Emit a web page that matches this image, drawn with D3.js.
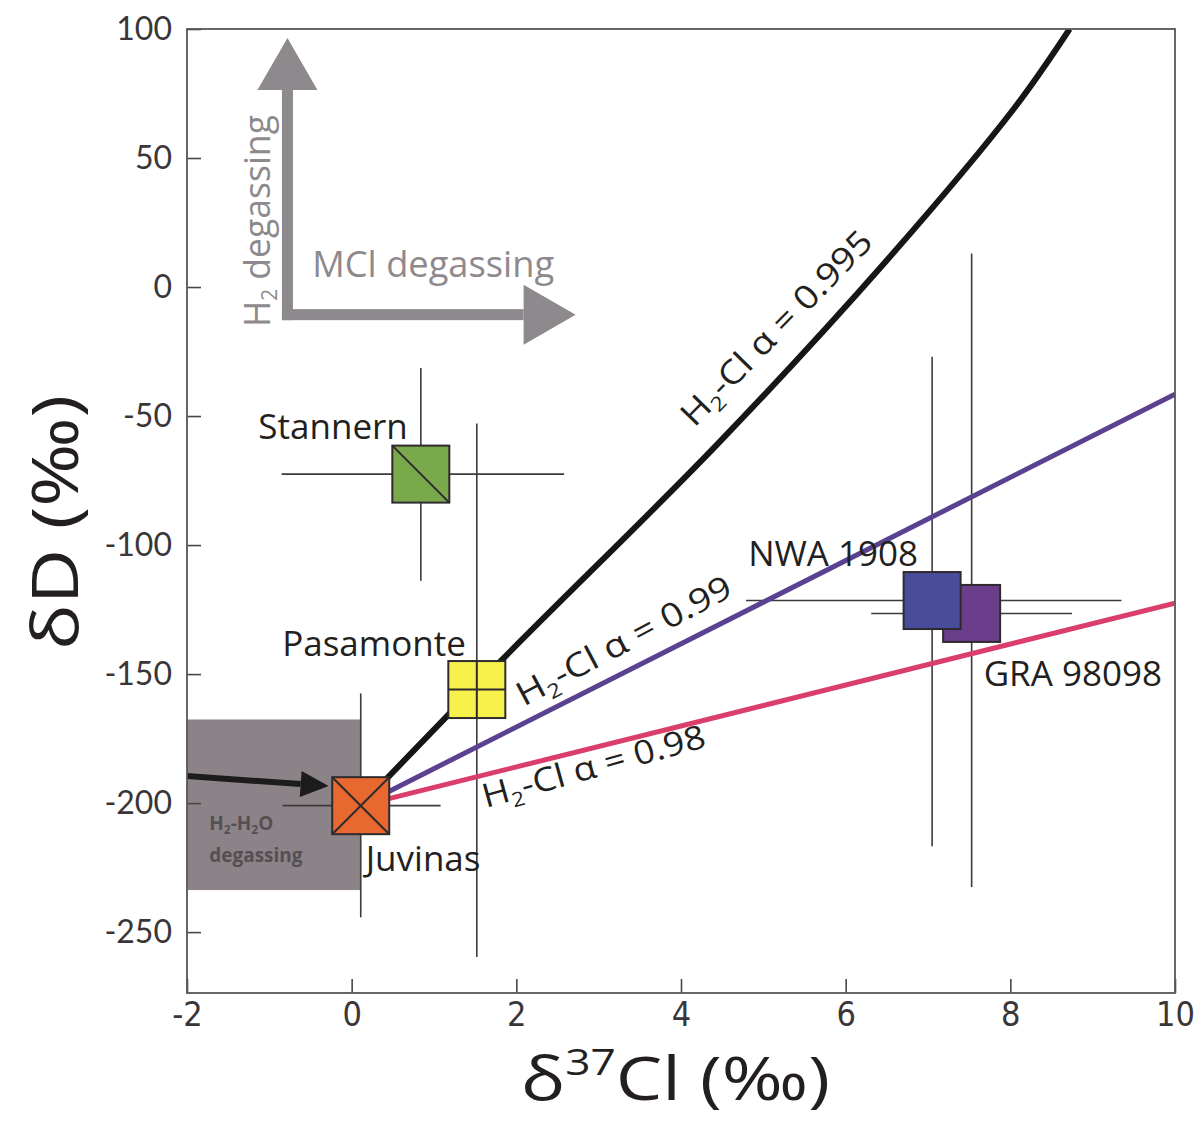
<!DOCTYPE html>
<html>
<head>
<meta charset="utf-8">
<script src="https://cdn.jsdelivr.net/npm/d3@7"></script>
<style>
  body { margin: 0; background: #fff; }
  svg text { font-family: "Open Sans", "Noto Sans", sans-serif; }
</style>
</head>
<body>
<div id="chart"></div>
<script>
// ---- data ----
const sampleNames = ['Stannern', 'Pasamonte', 'Juvinas', 'GRA 98098', 'NWA 1908'];
const sampleX   = [0.84, 1.52, 0.11, 7.53, 7.05];
const sampleY   = [-72.5, -156, -201, -126.5, -121.5];
const sampleXLo = [-0.85, 1.18, -0.84, 6.31, 4.79];
const sampleXHi = [2.58, 1.86, 1.08, 8.75, 9.35];
const sampleYLo = [-113.8, -259.6, -244.3, -232.5, -216.7];
const sampleYHi = [-31.4, -52.9, -157.5, 13, -27];
const sampleColors = ['#7aa94b', '#f6f14b', '#e8692f', '#6a3e8b', '#484c9b'];
const sampleMarks = ['diag', 'plus', 'cross', 'none', 'none'];

// degassing model curves (H2-Cl fractionation)
const curve995X = [0.11, 1.84, 4.44, 6.49, 8.04, 8.72];
const curve995Y = [-201, -144, -61, 10, 69, 100];
const line99X = [0.11, 10];
const line99Y = [-201, -41.5];
const line98X = [0.11, 10];
const line98Y = [-201, -122.5];

// H2-H2O degassing field
const fieldX = [-2, 0.11];
const fieldY = [-233.7, -167.6];

const xTicks = [-2, 0, 2, 4, 6, 8, 10];
const yTicks = [100, 50, 0, -50, -100, -150, -200, -250];

// ---- layout ----
const W = 1201, H = 1123;
const margin = { top: 29, left: 187, right: 26, bottom: 130 };
const width = W - margin.left - margin.right;
const height = H - margin.top - margin.bottom;

const svg = d3.select('#chart').append('svg')
  .attr('width', W)
  .attr('height', H);

const g = svg.append('g')
  .attr('transform', `translate(${margin.left},${margin.top})`);

const x = d3.scaleLinear().domain([-2, 10]).range([0, width]);
const y = d3.scaleLinear().domain([-273.6, 100]).range([height, 0]);

svg.append('defs').append('clipPath').attr('id', 'plot-clip')
  .append('rect').attr('width', width).attr('height', height);

const plot = g.append('g').attr('clip-path', 'url(#plot-clip)');

// H2-H2O field
plot.append('rect')
  .attr('x', x(fieldX[0]))
  .attr('y', y(fieldY[1]))
  .attr('width', x(fieldX[1]) - x(fieldX[0]))
  .attr('height', y(fieldY[0]) - y(fieldY[1]))
  .attr('fill', '#8b8387');

const fieldText = plot.append('text')
  .attr('fill', '#554f53')
  .style('font-weight', 700)
  .style('font-size', '19px');
fieldText.append('tspan').attr('x', x(-1.73)).attr('y', y(-210.5)).text('H');
fieldText.append('tspan').style('font-size', '12px').attr('dy', 4).text('2');
fieldText.append('tspan').attr('dy', -4).text('-H');
fieldText.append('tspan').style('font-size', '12px').attr('dy', 4).text('2');
fieldText.append('tspan').attr('dy', -4).text('O');
plot.append('text')
  .attr('x', x(-1.73)).attr('y', y(-222.9))
  .attr('fill', '#554f53')
  .style('font-weight', 700)
  .style('font-size', '19px')
  .text('degassing');

// black arrow into Juvinas
const arrowStart = [-2, -189.5];
const arrowEnd = [-0.28, -193.4];
{
  const x0 = x(arrowStart[0]), y0 = y(arrowStart[1]);
  const x1 = x(arrowEnd[0]), y1 = y(arrowEnd[1]);
  const ang = Math.atan2(y1 - y0, x1 - x0);
  const headLen = 28, headW = 13;
  const bx = x1 - headLen * Math.cos(ang), by = y1 - headLen * Math.sin(ang);
  plot.append('line')
    .attr('x1', x0).attr('y1', y0).attr('x2', bx).attr('y2', by)
    .attr('stroke', '#1c1c1c').attr('stroke-width', 6);
  plot.append('path')
    .attr('d', `M${x1},${y1}L${bx - headW * Math.sin(ang)},${by + headW * Math.cos(ang)}L${bx + headW * Math.sin(ang)},${by - headW * Math.cos(ang)}Z`)
    .attr('fill', '#1c1c1c');
}

// gray degassing direction arrows
const degasCorner = [-0.78, -10.7];
const h2ArrowTip = 96.5;
const mclArrowTip = 2.72;
{
  const cx = x(degasCorner[0]), cy = y(degasCorner[1]);
  const shaft = 11, headLen = 52, headHalf = 30;
  const ty = y(h2ArrowTip), tx = x(mclArrowTip);
  const gray = '#8e898c';
  plot.append('rect')
    .attr('x', cx - shaft / 2).attr('y', ty + headLen)
    .attr('width', shaft).attr('height', cy + shaft / 2 - (ty + headLen))
    .attr('fill', gray);
  plot.append('path')
    .attr('d', `M${cx},${ty}L${cx - headHalf},${ty + headLen}L${cx + headHalf},${ty + headLen}Z`)
    .attr('fill', gray);
  plot.append('rect')
    .attr('x', cx - shaft / 2).attr('y', cy - shaft / 2)
    .attr('width', tx - headLen - (cx - shaft / 2)).attr('height', shaft)
    .attr('fill', gray);
  plot.append('path')
    .attr('d', `M${tx},${cy}L${tx - headLen},${cy - headHalf}L${tx - headLen},${cy + headHalf}Z`)
    .attr('fill', gray);

  plot.append('text')
    .attr('x', x(-0.48)).attr('y', y(4.0))
    .attr('fill', gray)
    .style('font-size', '36px')
    .attr('textLength', 242)
    .attr('lengthAdjust', 'spacingAndGlyphs')
    .text('MCl degassing');

  const h2t = plot.append('text')
    .attr('transform', `translate(${cx - 17},${y(-15.5)}) rotate(-90)`)
    .attr('fill', gray)
    .style('font-size', '36px')
    .attr('textLength', 212)
    .attr('lengthAdjust', 'spacingAndGlyphs');
  h2t.append('tspan').text('H');
  h2t.append('tspan').style('font-size', '21px').attr('dy', 7).text('2');
  h2t.append('tspan').attr('dy', -7).text(' degassing');
}

// error bars
const idx = d3.range(sampleNames.length);
plot.append('g').selectAll('line.xerr')
  .data(idx).enter().append('line')
  .attr('class', 'xerr')
  .attr('x1', i => x(sampleXLo[i])).attr('x2', i => x(sampleXHi[i]))
  .attr('y1', i => y(sampleY[i])).attr('y2', i => y(sampleY[i]))
  .attr('stroke', '#3d3a3c').attr('stroke-width', 1.6);
plot.append('g').selectAll('line.yerr')
  .data(idx).enter().append('line')
  .attr('class', 'yerr')
  .attr('x1', i => x(sampleX[i])).attr('x2', i => x(sampleX[i]))
  .attr('y1', i => y(sampleYLo[i])).attr('y2', i => y(sampleYHi[i]))
  .attr('stroke', '#3d3a3c').attr('stroke-width', 1.6);

// model lines
const lineGen = d3.line()
  .x(d => x(d[0])).y(d => y(d[1]))
  .curve(d3.curveCatmullRom);
plot.append('path')
  .datum(d3.zip(line98X, line98Y))
  .attr('d', lineGen)
  .attr('fill', 'none').attr('stroke', '#da3f6c').attr('stroke-width', 5);
plot.append('path')
  .datum(d3.zip(line99X, line99Y))
  .attr('d', lineGen)
  .attr('fill', 'none').attr('stroke', '#5a4290').attr('stroke-width', 5);
plot.append('path')
  .datum(d3.zip(curve995X, curve995Y))
  .attr('d', lineGen)
  .attr('fill', 'none').attr('stroke', '#161616').attr('stroke-width', 6);

// sample boxes
const box = 57;
const cells = plot.append('g').selectAll('g.sample')
  .data(idx).enter().append('g')
  .attr('class', 'sample')
  .attr('transform', i => `translate(${x(sampleX[i])},${y(sampleY[i])})`);
cells.append('rect')
  .attr('x', -box / 2).attr('y', -box / 2)
  .attr('width', box).attr('height', box)
  .attr('fill', i => sampleColors[i])
  .attr('stroke', '#2f2a2e').attr('stroke-width', 2);
cells.each(function (i) {
  const s = d3.select(this), h = box / 2;
  const segs = [];
  if (sampleMarks[i] === 'diag' || sampleMarks[i] === 'cross') segs.push([-h, -h, h, h]);
  if (sampleMarks[i] === 'cross') segs.push([-h, h, h, -h]);
  if (sampleMarks[i] === 'plus') segs.push([-h, 0, h, 0], [0, -h, 0, h]);
  segs.forEach(p => s.append('line')
    .attr('x1', p[0]).attr('y1', p[1]).attr('x2', p[2]).attr('y2', p[3])
    .attr('stroke', '#2f2a2e').attr('stroke-width', 2));
});

// sample labels (offsets in px from the box centre)
const labelOffsets = {
  'Stannern': [-13, -35, 'end'],
  'Pasamonte': [-11, -34, 'end'],
  'Juvinas': [5, 65, 'start'],
  'GRA 98098': [12, 73, 'start'],
  'NWA 1908': [-14, -35, 'end']
};
plot.append('g').selectAll('text.label')
  .data(idx).enter().append('text')
  .attr('class', 'label')
  .attr('x', i => x(sampleX[i]) + labelOffsets[sampleNames[i]][0])
  .attr('y', i => y(sampleY[i]) + labelOffsets[sampleNames[i]][1])
  .attr('text-anchor', i => labelOffsets[sampleNames[i]][2])
  .attr('fill', '#231f20')
  .style('font-size', '35px')
  .text(i => sampleNames[i]);

// model labels
const modelLabels = [
  { text: '0.995', pos: [4.16, -54.7], angle: -45.6, len: 258 },
  { text: '0.99', pos: [2.09, -162.7], angle: -28, len: 239 },
  { text: '0.98', pos: [1.63, -201.9], angle: -15.5, len: 230 }
];
modelLabels.forEach(m => {
  const t = plot.append('text')
    .attr('transform', `translate(${x(m.pos[0])},${y(m.pos[1])}) rotate(${m.angle})`)
    .attr('fill', '#231f20')
    .style('font-size', '33px')
    .attr('textLength', m.len)
    .attr('lengthAdjust', 'spacingAndGlyphs');
  t.append('tspan').text('H');
  t.append('tspan').style('font-size', '20px').attr('dy', 7).text('2');
  t.append('tspan').attr('dy', -7).text(`-Cl α = ${m.text}`);
});

// axes
const yAxis = g.append('g')
  .call(d3.axisLeft(y).tickValues(yTicks).tickFormat(d => String(d))
    .tickSizeInner(-14).tickSizeOuter(0).tickPadding(15));
yAxis.select('.domain').remove();
yAxis.selectAll('.tick line').attr('stroke', '#4a4648').attr('stroke-width', 1.6);
yAxis.selectAll('.tick text')
  .attr('fill', '#3a3638')
  .style('font-family', 'Lato, "Open Sans", sans-serif')
  .style('font-size', '32px');

const xAxis = g.append('g')
  .attr('transform', `translate(0,${height})`)
  .call(d3.axisBottom(x).tickValues(xTicks).tickFormat(d => String(d))
    .tickSizeInner(-14).tickSizeOuter(0).tickPadding(9));
xAxis.select('.domain').remove();
xAxis.selectAll('.tick line').attr('stroke', '#4a4648').attr('stroke-width', 1.6);
xAxis.selectAll('.tick text')
  .attr('fill', '#3a3638')
  .style('font-family', '"Liberation Sans Narrow", "DejaVu Sans Condensed", Roboto, sans-serif')
  .style('font-size', '34px');

// frame
g.append('rect')
  .attr('width', width).attr('height', height)
  .attr('fill', 'none')
  .attr('stroke', '#5a5658').attr('stroke-width', 1.8);

// axis titles
const xTitle = svg.append('text')
  .attr('x', 521).attr('y', 1100)
  .attr('fill', '#231f20')
  .style('font-size', '60px')
  .attr('textLength', 309)
  .attr('lengthAdjust', 'spacingAndGlyphs');
xTitle.append('tspan').text('δ');
xTitle.append('tspan').style('font-size', '36px').attr('dy', -25).text('37');
xTitle.append('tspan').attr('dy', 25).text('Cl (‰)');

svg.append('text')
  .attr('transform', `translate(78,650) rotate(-90)`)
  .attr('fill', '#231f20')
  .style('font-size', '64px')
  .attr('textLength', 255)
  .attr('lengthAdjust', 'spacingAndGlyphs')
  .text('δD (‰)');
</script>
</body>
</html>
